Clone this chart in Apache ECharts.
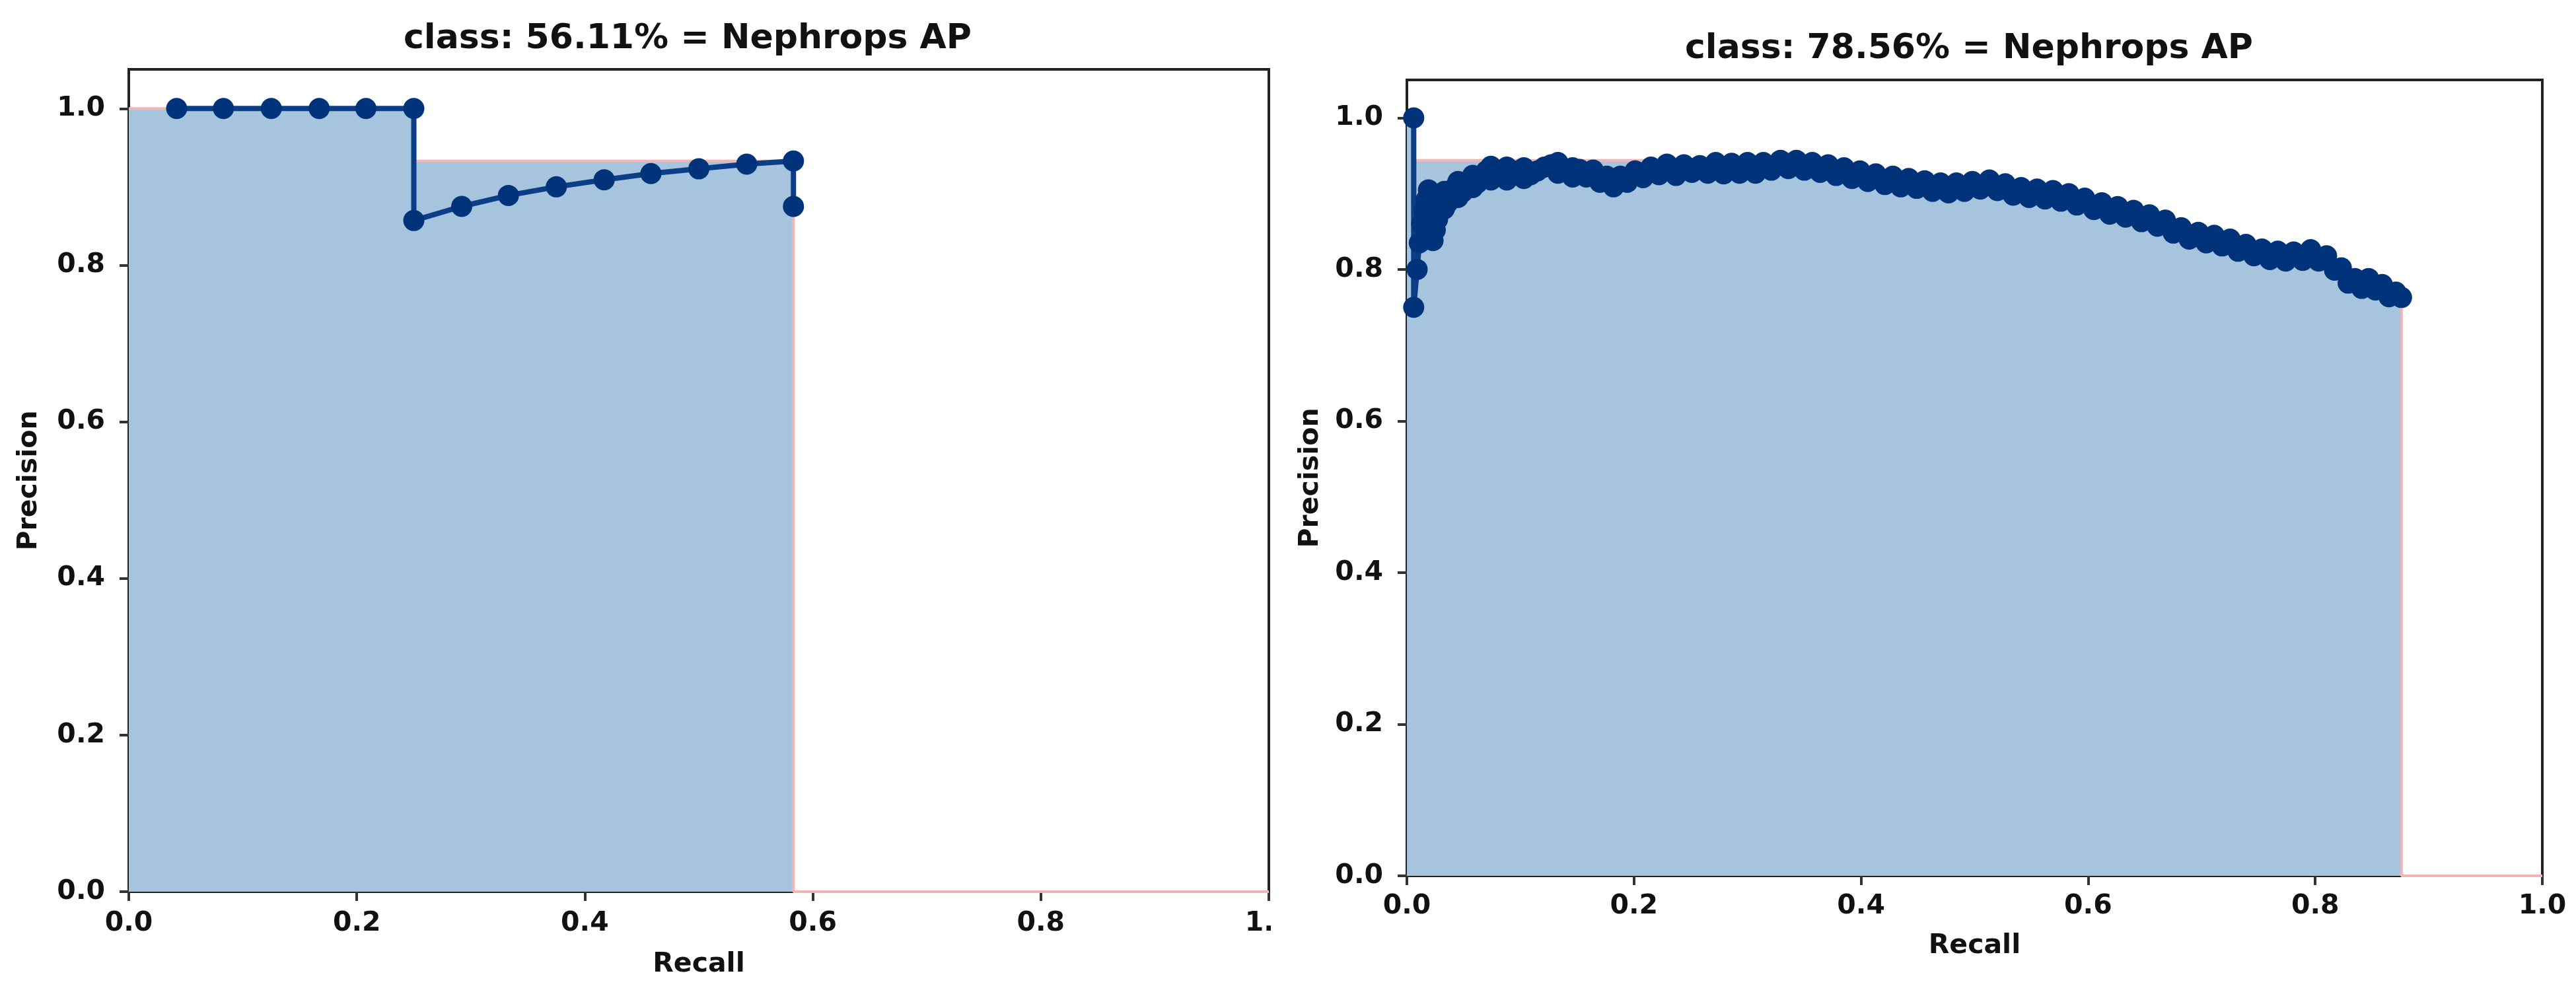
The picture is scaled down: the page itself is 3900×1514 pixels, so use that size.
<!DOCTYPE html>
<html>
<head>
<meta charset="utf-8">
<title>Nephrops AP</title>
<script src="https://cdn.jsdelivr.net/npm/echarts@6/dist/echarts.min.js"></script>
<style>
    html, body { margin: 0; padding: 0; background: #fff; }
    #wrap { position: relative; width: 3900px; height: 1514px; overflow: hidden; }
    #apChartLeft { position: absolute; left: 0; top: 0; width: 1924px; height: 1514px; }
    #apChartRight { position: absolute; left: 1950px; top: 0; width: 1950px; height: 1514px; }
</style>
</head>
<body>
<div id="wrap">
    <div id="apChartLeft"></div>
    <div id="apChartRight"></div>
</div>
<script>
var titleA = 'class: 56.11% = Nephrops AP';
var titleB = 'class: 78.56% = Nephrops AP';
var xTicks = [0, 0.2, 0.4, 0.6, 0.8, 1.0];
var yTicks = [0, 0.2, 0.4, 0.6, 0.8, 1.0];

// left panel: recall / precision of each detection
var recallA = [0.042, 0.083, 0.125, 0.167, 0.208, 0.250, 0.250, 0.292, 0.333, 0.375,
    0.417, 0.458, 0.500, 0.542, 0.583, 0.583];
var precisionA = [1.000, 1.000, 1.000, 1.000, 1.000, 1.000, 0.857, 0.875, 0.889, 0.900,
    0.909, 0.917, 0.923, 0.929, 0.933, 0.875];

// right panel
var recallB = [0.006, 0.006, 0.009, 0.011, 0.013, 0.015, 0.017, 0.019, 0.019, 0.021,
    0.023, 0.025, 0.027, 0.029, 0.031, 0.033, 0.033, 0.036, 0.039, 0.042,
    0.045, 0.045, 0.049, 0.052, 0.055, 0.058, 0.058, 0.062, 0.066, 0.070,
    0.074, 0.074, 0.079, 0.084, 0.088, 0.088, 0.093, 0.098, 0.103, 0.103,
    0.109, 0.115, 0.121, 0.127, 0.133, 0.133, 0.140, 0.146, 0.146, 0.152,
    0.158, 0.164, 0.170, 0.176, 0.182, 0.188, 0.194, 0.201, 0.208, 0.215,
    0.222, 0.229, 0.237, 0.244, 0.251, 0.258, 0.265, 0.272, 0.279, 0.286,
    0.293, 0.300, 0.307, 0.314, 0.321, 0.329, 0.336, 0.343, 0.350, 0.357,
    0.364, 0.371, 0.378, 0.385, 0.392, 0.399, 0.406, 0.413, 0.421, 0.428,
    0.435, 0.442, 0.449, 0.456, 0.463, 0.470, 0.477, 0.484, 0.491, 0.498,
    0.505, 0.513, 0.520, 0.527, 0.534, 0.541, 0.548, 0.555, 0.562, 0.569,
    0.576, 0.583, 0.590, 0.597, 0.605, 0.612, 0.619, 0.626, 0.633, 0.640,
    0.647, 0.654, 0.661, 0.668, 0.675, 0.682, 0.689, 0.697, 0.704, 0.711,
    0.718, 0.725, 0.732, 0.739, 0.746, 0.753, 0.760, 0.767, 0.774, 0.781,
    0.789, 0.796, 0.803, 0.810, 0.817, 0.823, 0.829, 0.835, 0.841, 0.847,
    0.853, 0.859, 0.865, 0.871, 0.876];
var precisionB = [1.000, 0.750, 0.800, 0.835, 0.860, 0.878, 0.892, 0.905, 0.868, 0.848,
    0.838, 0.852, 0.866, 0.880, 0.892, 0.903, 0.880, 0.888, 0.898, 0.908,
    0.916, 0.895, 0.902, 0.910, 0.918, 0.924, 0.908, 0.914, 0.922, 0.930,
    0.936, 0.918, 0.924, 0.930, 0.935, 0.918, 0.924, 0.930, 0.934, 0.920,
    0.925, 0.930, 0.935, 0.938, 0.941, 0.927, 0.931, 0.934, 0.922, 0.932,
    0.922, 0.931, 0.915, 0.923, 0.909, 0.923, 0.915, 0.930, 0.921, 0.935,
    0.925, 0.939, 0.924, 0.938, 0.928, 0.937, 0.927, 0.941, 0.926, 0.940,
    0.927, 0.941, 0.927, 0.941, 0.931, 0.944, 0.933, 0.944, 0.931, 0.941,
    0.928, 0.938, 0.924, 0.934, 0.920, 0.930, 0.916, 0.926, 0.912, 0.923,
    0.909, 0.920, 0.907, 0.917, 0.903, 0.914, 0.901, 0.914, 0.903, 0.916,
    0.906, 0.918, 0.904, 0.913, 0.898, 0.908, 0.895, 0.906, 0.893, 0.904,
    0.890, 0.900, 0.885, 0.894, 0.879, 0.888, 0.873, 0.883, 0.869, 0.878,
    0.863, 0.872, 0.857, 0.865, 0.848, 0.855, 0.840, 0.849, 0.835, 0.845,
    0.831, 0.840, 0.824, 0.833, 0.818, 0.827, 0.813, 0.824, 0.811, 0.823,
    0.812, 0.826, 0.811, 0.818, 0.799, 0.802, 0.782, 0.788, 0.775, 0.788,
    0.773, 0.780, 0.764, 0.770, 0.763];

var FONT = 'DejaVu Sans';

// interpolated precision envelope, same as the voc-style AP script
function apArea(rec, prec) {
    var mrec = [0].concat(rec, [1.0]);
    var mpre = [0].concat(prec, [0]);
    for (var i = mpre.length - 2; i >= 0; i--) {
        mpre[i] = Math.max(mpre[i], mpre[i + 1]);
    }
    var xs = mrec.slice(0, -1).concat([mrec[mrec.length - 2], mrec[mrec.length - 1]]);
    var ys = mpre.slice(0, -1).concat([0.0, mpre[mpre.length - 1]]);
    var out = [];
    for (var j = 0; j < xs.length; j++) {
        out.push([xs[j], ys[j]]);
    }
    return out;
}

function pairs(xs, ys) {
    var out = [];
    for (var i = 0; i < xs.length; i++) {
        out.push([xs[i], ys[i]]);
    }
    return out;
}

function buildOption(cfg) {
    var txt = { fontFamily: FONT, fontWeight: 'bold', fontSize: 41, color: '#111' };
    return {
        animation: false,
        backgroundColor: '#fff',
        title: {
            text: cfg.title,
            left: cfg.titleX,
            top: cfg.titleTop,
            textAlign: 'center',
            textStyle: { fontFamily: FONT, fontWeight: 'bold', fontSize: 52, color: '#111' }
        },
        grid: {
            left: cfg.grid[0],
            right: cfg.grid[1],
            top: cfg.grid[2],
            bottom: cfg.grid[3],
            outerBoundsMode: 'none',
            containLabel: false,
            show: true,
            backgroundColor: '#fff',
            borderColor: '#222',
            borderWidth: 4
        },
        xAxis: {
            type: 'value',
            min: 0,
            max: 1,
            interval: 0.2,
            name: 'Recall',
            nameLocation: 'middle',
            nameGap: cfg.xNameGap,
            nameTextStyle: txt,
            axisLine: { show: true, onZero: false, lineStyle: { color: '#222', width: 4 } },
            axisTick: { show: true, length: 14, lineStyle: { color: '#333', width: 4 }, customValues: xTicks },
            axisLabel: {
                margin: cfg.xLabelMargin,
                fontFamily: FONT, fontWeight: 'bold', fontSize: 41, color: '#111',
                customValues: xTicks,
                formatter: function(v) { return v.toFixed(1); }
            },
            splitLine: { show: false }
        },
        yAxis: {
            type: 'value',
            min: 0,
            max: 1.05,
            name: 'Precision',
            nameLocation: 'middle',
            nameRotate: 90,
            nameGap: cfg.yNameGap,
            nameTextStyle: txt,
            axisLine: { show: true, onZero: false, lineStyle: { color: '#222', width: 4 } },
            axisTick: { show: true, length: 14, lineStyle: { color: '#333', width: 4 }, customValues: yTicks },
            axisLabel: {
                margin: 36,
                fontFamily: FONT, fontWeight: 'bold', fontSize: 41, color: '#111',
                customValues: yTicks,
                formatter: function(v) { return v.toFixed(1); }
            },
            splitLine: { show: false }
        },
        series: [{
            // filled area under the envelope
            type: 'line',
            data: apArea(cfg.rec, cfg.prec),
            symbol: 'none',
            silent: true,
            lineStyle: { color: '#f3b4b7', width: 4 },
            areaStyle: { color: '#a7c4de', opacity: 1 },
            z: 1
        }, {
            type: 'line',
            data: pairs(cfg.rec, cfg.prec),
            symbol: 'circle',
            symbolSize: 32,
            showSymbol: true,
            showAllSymbol: true,
            itemStyle: { color: '#00337a' },
            lineStyle: { color: '#0b3e86', width: 8 },
            z: 3
        }]
    };
}

var chartA = echarts.init(document.getElementById('apChartLeft'));
chartA.setOption(buildOption({
    title: titleA,
    titleX: 1036,
    titleTop: 28,
    grid: [195, 3, 105, 164],
    xNameGap: 90,
    xLabelMargin: 28,
    yNameGap: 130,
    rec: recallA,
    prec: precisionA
}));

var chartB = echarts.init(document.getElementById('apChartRight'));
chartB.setOption(buildOption({
    title: titleB,
    titleX: 1026,
    titleTop: 43,
    grid: [180, 51, 121, 188],
    xNameGap: 86,
    xLabelMargin: 26,
    yNameGap: 125,
    rec: recallB,
    prec: precisionB
}));
</script>
</body>
</html>
